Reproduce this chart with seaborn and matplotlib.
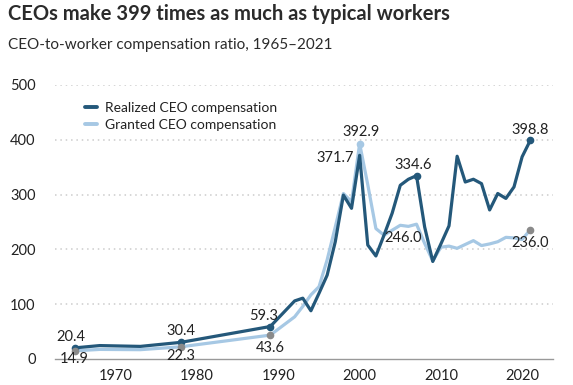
import matplotlib
matplotlib.use("Agg")
import matplotlib.pyplot as plt
import seaborn as sns
import pandas as pd
import numpy as np

years = [1965, 1968, 1973, 1978, 1989, 1992, 1993, 1994, 1995, 1996, 1997, 1998, 1999,
         2000, 2001, 2002, 2003, 2004, 2005, 2006, 2007, 2008, 2009, 2010, 2011, 2012,
         2013, 2014, 2015, 2016, 2017, 2018, 2019, 2020, 2021]
realized = [20.4, 24.5, 23.0, 30.4, 59.3, 106, 111, 88, 120, 153, 214, 299, 275,
            371.7, 208, 188, 226, 266, 317, 328, 334.6, 241, 178, 210, 243, 370,
            323, 328, 320, 272, 302, 293, 314, 369, 398.8]
granted = [14.9, 17.5, 17.0, 22.3, 43.6, 77, 96, 117, 132, 181, 241, 302, 287,
           392.9, 318, 238, 226, 235, 244, 242, 246.0, 211, 179, 204, 206, 202,
           209, 216, 207, 210, 214, 222, 221, 218, 236.0]

series_names = ["Realized CEO compensation", "Granted CEO compensation"]
yticks = [0, 100, 200, 300, 400, 500]
xticks = [1970, 1980, 1990, 2000, 2010, 2020]

DARK = "#24587a"
LIGHT = "#a6c8e4"
GREY = "#8a8a8a"
TEXT = "#222222"

df = pd.DataFrame({
    "year": years * 2,
    "value": realized + granted,
    "series": [series_names[0]] * len(years) + [series_names[1]] * len(years),
})

sns.set_style("white")
plt.rcParams["font.family"] = ["Lato", "DejaVu Sans"]

fig = plt.figure(figsize=(5.73, 3.85), dpi=100)
ax = fig.add_axes([55 / 573, 26 / 385, (553 - 55) / 573, (359 - 85) / 385])

sns.lineplot(data=df, x="year", y="value", hue="series",
             hue_order=[series_names[1], series_names[0]],
             palette={series_names[0]: DARK, series_names[1]: LIGHT},
             linewidth=2.3, ax=ax, legend=False, zorder=3)

ax.set_xlim(1962.5, 2023.8)
ax.set_ylim(0, 500)
ax.set_yticks(yticks)
ax.set_xticks(xticks)
ax.set_xlabel("")
ax.set_ylabel("")
ax.tick_params(axis="y", length=0, labelsize=10.5, colors=TEXT, pad=14)
ax.tick_params(axis="x", length=5, width=0.8, color="#999999", labelsize=10.5,
               colors=TEXT, pad=2, direction="out")
for y in yticks[1:]:
    ax.axhline(y, color="#cccccc", linestyle=(0, (1, 2.5)), linewidth=1.1, zorder=1)
for s in ["top", "right", "left"]:
    ax.spines[s].set_visible(False)
ax.spines["bottom"].set_color("#999999")
ax.spines["bottom"].set_linewidth(1.0)

# markers
def val(series, yr):
    return series[years.index(yr)]

for yr in [1965, 1978, 1989, 2007, 2021]:
    ax.plot(yr, val(realized, yr), "o", color=DARK, markersize=4.5, zorder=5)
for yr in [1965, 1978, 1989, 2021]:
    ax.plot(yr, val(granted, yr), "o", color=GREY, markersize=4.5, zorder=5)
ax.plot(2000, val(granted, 2000), "o", color=LIGHT, markersize=4.5, zorder=5)

px = 0.72
labels = [
    (realized, 1965, (-4, 11)),
    (granted, 1965, (-1, -8)),
    (realized, 1978, (0, 11)),
    (granted, 1978, (0, -9)),
    (realized, 1989, (-7, 10.5)),
    (granted, 1989, (0, -13)),
    (granted, 2000, (1, 12)),
    (realized, 2000, (-24, -3)),
    (realized, 2007, (-3, 10.5)),
    (granted, 2007, (-13, -14)),
    (realized, 2021, (0, 10.5)),
    (granted, 2021, (0, -13)),
]
for ser, yr, (dx, dy) in labels:
    v = val(ser, yr)
    ax.annotate(f"{v:.1f}", (yr, v), xytext=(dx * px, dy * px), textcoords="offset points",
                ha="center", va="center", fontsize=10.5, color=TEXT, zorder=6)

# legend
from matplotlib.lines import Line2D
handles = [Line2D([0], [0], color=DARK, lw=2.8), Line2D([0], [0], color=LIGHT, lw=2.8)]
leg = ax.legend(handles, series_names, loc="upper left", bbox_to_anchor=(0.05, 0.96),
                frameon=False, fontsize=10, handlelength=0.8, handletextpad=0.6,
                labelspacing=0.4, borderaxespad=0)
for t in leg.get_texts():
    t.set_color(TEXT)

fig.text(8 / 573, 1 - 14 / 385, "CEOs make 399 times as much as typical workers",
         fontsize=14.5, fontweight="bold", color="#2b2b2b", va="center", ha="left")
fig.text(8 / 573, 1 - 45 / 385, "CEO-to-worker compensation ratio, 1965\u20132021",
         fontsize=11, color="#2b2b2b", va="center", ha="left")

fig.savefig("out.png", dpi=100)
